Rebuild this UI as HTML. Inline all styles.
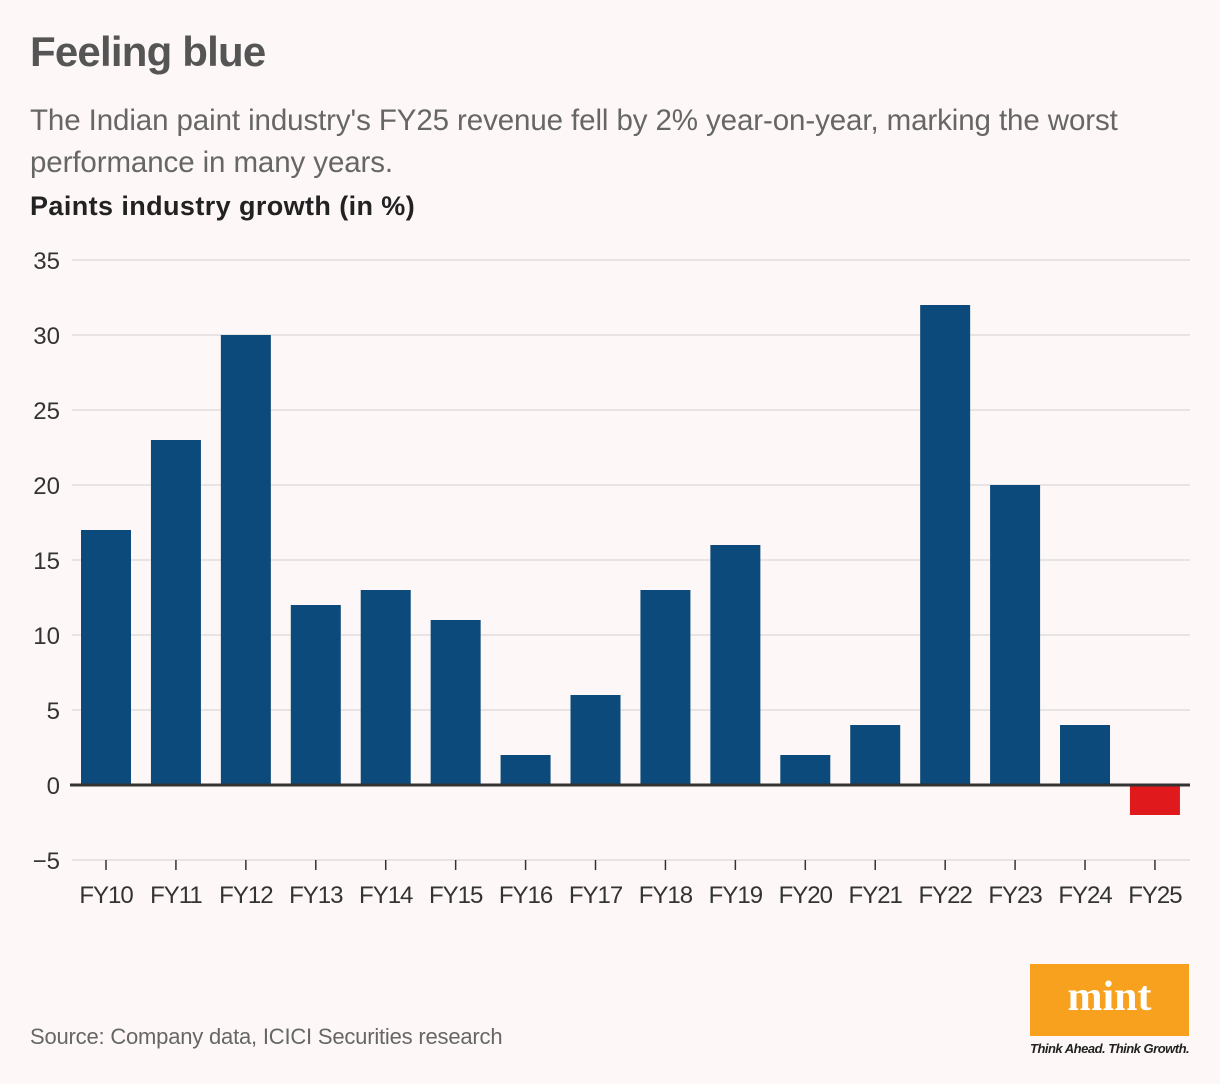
<!DOCTYPE html>
<html><head><meta charset="utf-8"><style>
body{margin:0;background:#fdf8f7;font-family:"Liberation Sans",sans-serif;}
.wrap{position:relative;width:1220px;height:1084px;overflow:hidden;}
</style></head><body>
<div class="wrap">
<div style="position:absolute;left:30px;top:28px;font-size:42px;font-weight:bold;color:#555;letter-spacing:-0.8px">Feeling blue</div>
<div style="position:absolute;left:30px;top:100px;width:1160px;font-size:29.5px;line-height:42px;color:#666;letter-spacing:-0.1px">The Indian paint industry's FY25 revenue fell by 2% year-on-year, marking the worst performance in many years.</div>
<div style="position:absolute;left:30px;top:191px;font-size:27px;font-weight:bold;color:#222;letter-spacing:0.4px">Paints industry growth (in %)</div>
<svg id="chart" width="1220" height="1084" style="position:absolute;left:0;top:0"></svg>
<div style="position:absolute;left:30px;top:1024px;font-size:22px;color:#666;letter-spacing:-0.2px">Source: Company data, ICICI Securities research</div>
<div style="position:absolute;left:1030px;top:964px;width:159px;height:72px;background:#f7a11e;color:#fff;font-family:'Liberation Serif',serif;font-weight:bold;font-size:42px;text-align:center;line-height:66px">mint</div>
<div style="position:absolute;left:1030px;top:1041px;font-size:13px;font-style:italic;font-weight:bold;color:#222;letter-spacing:-0.5px">Think Ahead. Think Growth.</div>
</div>
<script>
const categories=["FY10","FY11","FY12","FY13","FY14","FY15","FY16","FY17","FY18","FY19","FY20","FY21","FY22","FY23","FY24","FY25"];
const growth=[17,23,30,12,13,11,2,6,13,16,2,4,32,20,4,-2];
const yTicks=[35,30,25,20,15,10,5,0,-5];
const svg=document.getElementById('chart');
const NS='http://www.w3.org/2000/svg';
const y=v=>785-v*15;
const x=i=>106+i*69.93;
function mk(t,a){const e=document.createElementNS(NS,t);for(const k in a)e.setAttribute(k,a[k]);svg.appendChild(e);return e;}
yTicks.forEach(t=>{
 const g=mk('line',{x1:72,x2:1190,y1:y(t),y2:y(t),stroke:'#e2dedd','stroke-width':1.5});
 
 
 const l=mk('text',{x:60,y:y(t)+9,'text-anchor':'end','font-size':24,fill:'#333','font-family':'Liberation Sans, sans-serif'});
 l.textContent=t<0?'\u2212'+Math.abs(t):t;
 
 
});
categories.forEach((c,i)=>{
 const v=growth[i];
 const r=mk('rect',{x:x(i)-25,width:50,y:Math.min(y(v),y(0)),height:Math.abs(y(v)-y(0)),fill:v<0?'#e0191d':'#0b4a7a'});
 
 
 const tk=mk('line',{x1:x(i),x2:x(i),y1:860,y2:870,stroke:'#333','stroke-width':1.5});
 
 
 const l=mk('text',{x:x(i),y:903,'text-anchor':'middle','font-size':24,fill:'#333','font-family':'Liberation Sans, sans-serif','letter-spacing':'-1'});
 l.textContent=c;
 
 
});
const z=mk('line',{x1:70,x2:1190,y1:y(0),y2:y(0),stroke:'#333','stroke-width':3});


</script>
</body></html>
